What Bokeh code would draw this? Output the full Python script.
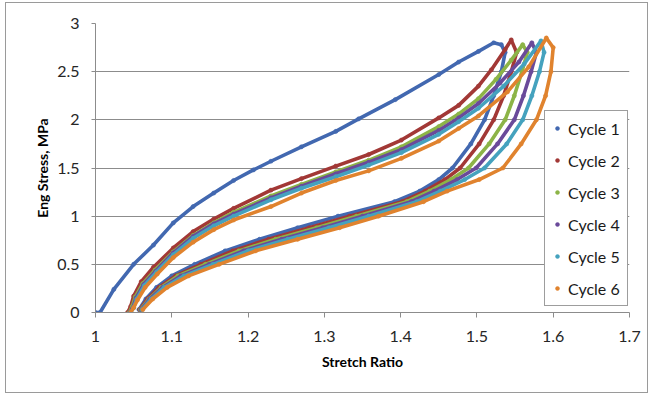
from bokeh.plotting import figure
from bokeh.models import Legend, LegendItem, FixedTicker, Range1d
from bokeh.embed import file_html
from bokeh.resources import INLINE

# ---- data ----
series_names = ["Cycle 1", "Cycle 2", "Cycle 3", "Cycle 4", "Cycle 5", "Cycle 6"]
series_colors = ["#4268B0", "#A23836", "#8CB447", "#6A4A9A", "#45A2BE", "#E0832E"]

x_ticks = [1.0, 1.1, 1.2, 1.3, 1.4, 1.5, 1.6, 1.7]
y_ticks = [0, 0.5, 1, 1.5, 2, 2.5, 3]

# loading branches (upper curves)
c1_load_x = [1.000, 1.006, 1.024, 1.050, 1.076, 1.102, 1.128, 1.155, 1.181, 1.207, 1.230, 1.270, 1.315, 1.345, 1.393, 1.450, 1.476, 1.502, 1.522, 1.532]
c1_load_y = [0.00, 0.00, 0.24, 0.50, 0.70, 0.93, 1.10, 1.24, 1.37, 1.48, 1.57, 1.72, 1.88, 2.01, 2.21, 2.47, 2.60, 2.71, 2.80, 2.78]
c2_load_x = [1.042, 1.046, 1.050, 1.060, 1.076, 1.102, 1.128, 1.155, 1.181, 1.230, 1.270, 1.315, 1.358, 1.401, 1.450, 1.476, 1.502, 1.519, 1.537, 1.545]
c2_load_y = [0.00, 0.06, 0.17, 0.32, 0.47, 0.67, 0.84, 0.97, 1.08, 1.27, 1.39, 1.52, 1.64, 1.79, 2.02, 2.15, 2.35, 2.52, 2.73, 2.83]
c3_load_x = [1.044, 1.048, 1.052, 1.062, 1.078, 1.102, 1.128, 1.155, 1.181, 1.230, 1.270, 1.315, 1.358, 1.401, 1.450, 1.476, 1.502, 1.525, 1.545, 1.560]
c3_load_y = [0.00, 0.06, 0.16, 0.30, 0.44, 0.63, 0.80, 0.93, 1.04, 1.21, 1.33, 1.46, 1.58, 1.72, 1.93, 2.06, 2.22, 2.42, 2.62, 2.78]
c4_load_x = [1.045, 1.049, 1.053, 1.063, 1.079, 1.102, 1.128, 1.155, 1.181, 1.230, 1.270, 1.315, 1.358, 1.401, 1.450, 1.476, 1.502, 1.530, 1.555, 1.572]
c4_load_y = [0.00, 0.05, 0.15, 0.29, 0.43, 0.62, 0.79, 0.92, 1.02, 1.19, 1.31, 1.44, 1.56, 1.69, 1.89, 2.02, 2.17, 2.38, 2.60, 2.80]
c5_load_x = [1.046, 1.050, 1.054, 1.064, 1.080, 1.102, 1.128, 1.155, 1.181, 1.230, 1.270, 1.315, 1.358, 1.401, 1.450, 1.476, 1.502, 1.535, 1.562, 1.584]
c5_load_y = [0.00, 0.05, 0.14, 0.28, 0.42, 0.60, 0.77, 0.90, 1.00, 1.17, 1.29, 1.41, 1.53, 1.66, 1.85, 1.98, 2.12, 2.35, 2.58, 2.82]
c6_load_x = [1.046, 1.050, 1.055, 1.065, 1.081, 1.102, 1.128, 1.155, 1.181, 1.230, 1.270, 1.315, 1.358, 1.401, 1.450, 1.476, 1.502, 1.540, 1.568, 1.591]
c6_load_y = [0.00, 0.05, 0.13, 0.26, 0.40, 0.57, 0.73, 0.86, 0.96, 1.10, 1.24, 1.37, 1.47, 1.60, 1.78, 1.91, 2.04, 2.29, 2.55, 2.85]

# unloading branches (lower curves)
c1_unload_x = [1.537, 1.532, 1.522, 1.510, 1.492, 1.468, 1.450, 1.425, 1.392, 1.318, 1.265, 1.215, 1.170, 1.130, 1.100, 1.080, 1.066, 1.057]
c1_unload_y = [2.70, 2.50, 2.25, 2.00, 1.75, 1.50, 1.38, 1.26, 1.15, 1.00, 0.88, 0.76, 0.64, 0.50, 0.38, 0.26, 0.14, 0.03]
c2_unload_x = [1.552, 1.545, 1.535, 1.522, 1.503, 1.478, 1.458, 1.432, 1.402, 1.333, 1.280, 1.227, 1.180, 1.138, 1.105, 1.083, 1.068, 1.058]
c2_unload_y = [2.70, 2.50, 2.25, 2.00, 1.75, 1.50, 1.38, 1.26, 1.15, 1.00, 0.88, 0.76, 0.64, 0.50, 0.38, 0.26, 0.14, 0.03]
c3_unload_x = [1.566, 1.559, 1.549, 1.537, 1.516, 1.489, 1.466, 1.438, 1.408, 1.342, 1.290, 1.236, 1.188, 1.144, 1.108, 1.086, 1.070, 1.059]
c3_unload_y = [2.70, 2.50, 2.25, 2.00, 1.75, 1.50, 1.38, 1.26, 1.15, 1.00, 0.88, 0.76, 0.64, 0.50, 0.38, 0.26, 0.14, 0.03]
c4_unload_x = [1.578, 1.571, 1.561, 1.549, 1.527, 1.499, 1.474, 1.444, 1.414, 1.350, 1.298, 1.244, 1.194, 1.149, 1.112, 1.088, 1.071, 1.060]
c4_unload_y = [2.70, 2.50, 2.25, 2.00, 1.75, 1.50, 1.38, 1.26, 1.15, 1.00, 0.88, 0.76, 0.64, 0.50, 0.38, 0.26, 0.14, 0.03]
c5_unload_x = [1.588, 1.582, 1.572, 1.560, 1.539, 1.510, 1.484, 1.452, 1.421, 1.358, 1.306, 1.252, 1.200, 1.154, 1.116, 1.090, 1.073, 1.061]
c5_unload_y = [2.70, 2.50, 2.25, 2.00, 1.75, 1.50, 1.38, 1.26, 1.15, 1.00, 0.88, 0.76, 0.64, 0.50, 0.38, 0.26, 0.14, 0.03]
c6_unload_x = [1.600, 1.597, 1.590, 1.578, 1.558, 1.534, 1.503, 1.461, 1.430, 1.371, 1.320, 1.265, 1.210, 1.162, 1.122, 1.094, 1.075, 1.062]
c6_unload_y = [2.75, 2.50, 2.25, 2.00, 1.75, 1.50, 1.38, 1.26, 1.15, 1.00, 0.88, 0.76, 0.64, 0.50, 0.38, 0.26, 0.14, 0.03]

loads = [(c1_load_x, c1_load_y), (c2_load_x, c2_load_y), (c3_load_x, c3_load_y),
         (c4_load_x, c4_load_y), (c5_load_x, c5_load_y), (c6_load_x, c6_load_y)]
unloads = [(c1_unload_x, c1_unload_y), (c2_unload_x, c2_unload_y), (c3_unload_x, c3_unload_y),
           (c4_unload_x, c4_unload_y), (c5_unload_x, c5_unload_y), (c6_unload_x, c6_unload_y)]

FONT = "Lato"

p = figure(width=643, height=391, output_backend="svg", toolbar_location=None,
           x_range=Range1d(1.0, 1.7), y_range=Range1d(0, 3),
           min_border_left=89, min_border_right=20, min_border_top=20, min_border_bottom=82)
p.styles = {"border": "1px solid #9a9a9a", "margin-left": "5px", "margin-top": "2px"}
p.outline_line_color = None
p.background_fill_color = "white"
p.border_fill_color = "white"

# grid
p.xgrid.visible = False
p.ygrid.ticker = FixedTicker(ticks=y_ticks)
p.ygrid.grid_line_color = "#8c8c8c"
p.ygrid.grid_line_width = 1

# axes
for ax in (p.xaxis[0], p.yaxis[0]):
    ax.axis_line_color = "#8c8c8c"
    ax.major_tick_line_color = "#8c8c8c"
    ax.minor_tick_line_color = None
    ax.major_tick_in = 0
    ax.major_label_text_font = FONT
    ax.major_label_text_font_size = "16px"
    ax.major_label_text_color = "#262626"
    ax.axis_label_text_font = FONT
    ax.axis_label_text_font_style = "bold"
    ax.axis_label_text_font_size = "14px"
    ax.axis_label_text_color = "#000000"

p.xaxis.ticker = FixedTicker(ticks=x_ticks)
p.xaxis.major_label_overrides = {t: f"{t:g}" for t in x_ticks}
p.xaxis.major_tick_out = 5
p.xaxis.major_label_standoff = 13
p.xaxis.axis_label = "Stretch Ratio"
p.xaxis.axis_label_standoff = 8

p.yaxis.ticker = FixedTicker(ticks=y_ticks)
p.yaxis.major_label_overrides = {t: f"{t:g}" for t in y_ticks}
p.yaxis.major_tick_out = 4
p.yaxis.major_label_standoff = 12
p.yaxis.axis_label = "Eng Stress, MPa"
p.yaxis.axis_label_standoff = 3

items = []
for i, name in enumerate(series_names):
    col = series_colors[i]
    lx, ly = loads[i]
    ux, uy = unloads[i]
    xs = list(lx) + list(ux)
    ys = list(ly) + list(uy)
    p.line(xs, ys, line_color=col, line_width=3.6, line_join="round", line_cap="round")
    r = p.scatter(xs, ys, size=4.2, fill_color=col, line_color=col, line_width=0.5)
    items.append(LegendItem(label=name, renderers=[r]))

legend = Legend(items=items, location=(449, 6))
legend.border_line_color = "#3c3c3c"
legend.border_line_width = 1
legend.background_fill_color = "white"
legend.background_fill_alpha = 1
legend.label_text_font = FONT
legend.label_text_font_size = "16px"
legend.label_text_color = "#1a1a1a"
legend.glyph_width = 10
legend.glyph_height = 20
legend.label_height = 20
legend.label_standoff = 6
legend.spacing = 12
legend.padding = 7
legend.margin = 0
p.add_layout(legend, "center")

open("out.html", "w").write(file_html(p, INLINE))
